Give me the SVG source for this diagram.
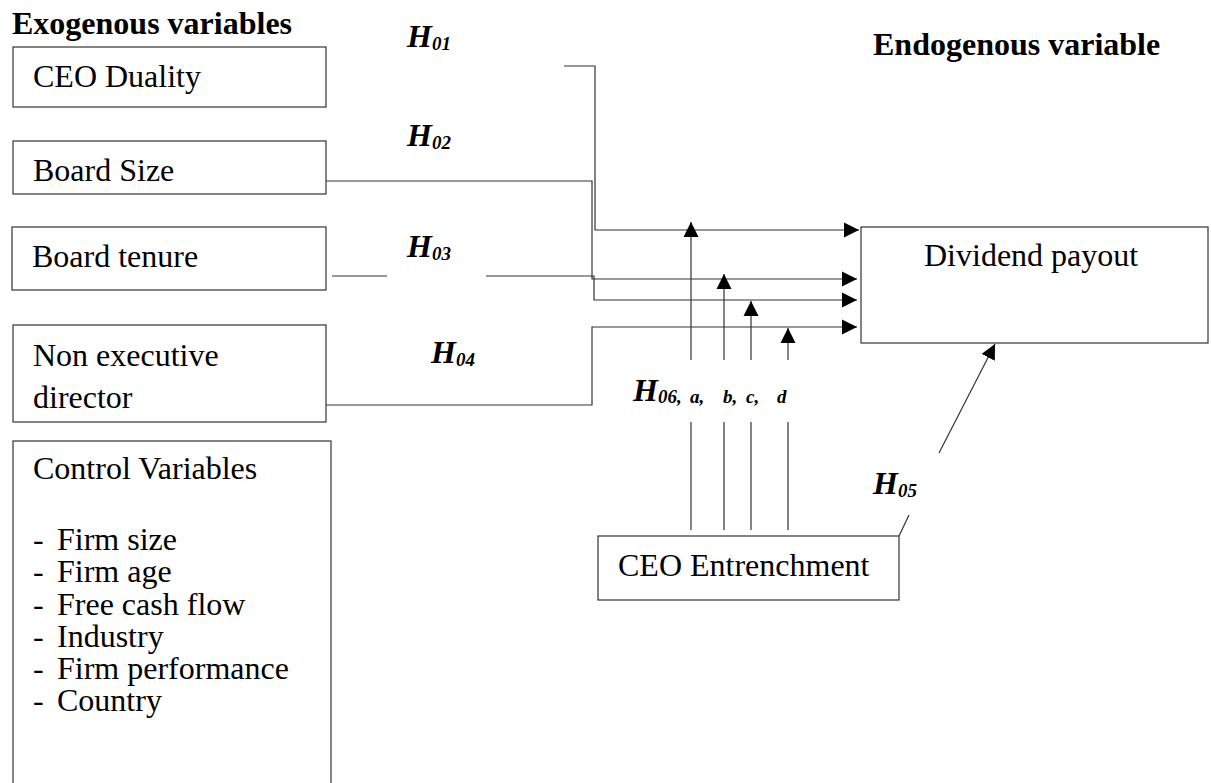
<svg xmlns="http://www.w3.org/2000/svg" width="1211" height="783" viewBox="0 0 1211 783">
<style>
.box{fill:#fff;stroke:#333;stroke-width:1.2}
.t{font-family:"Liberation Serif",serif;font-size:32px;fill:#000}
.hd{font-family:"Liberation Serif",serif;font-size:32px;font-weight:bold;fill:#000}
.h{font-family:"Liberation Serif",serif;font-size:32px;font-weight:bold;font-style:italic;fill:#000}
.sub{font-size:19px}
.sm{font-size:19px}
.c{fill:none;stroke:#333;stroke-width:1.2}
</style>
<defs>
<marker id="ah" markerUnits="userSpaceOnUse" markerWidth="16" markerHeight="16" refX="15" refY="8" orient="auto" viewBox="0 0 16 16">
<path d="M0,0.5 L15,8 L0,15.5 z" fill="#000"/>
</marker>
</defs>
<rect width="1211" height="783" fill="#fff"/>
<text class="hd" x="12" y="34">Exogenous variables</text>
<text class="hd" x="873" y="55">Endogenous variable</text>
<g id="ceo-duality"><rect class="box" x="13" y="47" width="313" height="60"/><text class="t" x="33" y="87">CEO Duality</text></g>
<g id="board-size"><rect class="box" x="13" y="141" width="313" height="53"/><text class="t" x="33" y="181">Board Size</text></g>
<g id="board-tenure"><rect class="box" x="12" y="227" width="314" height="63"/><text class="t" x="32" y="267">Board tenure</text></g>
<g id="non-exec"><rect class="box" x="13" y="325" width="313" height="97"/><text class="t" x="33" y="366">Non executive</text><text class="t" x="33" y="408">director</text></g>
<g id="control"><rect class="box" x="13" y="441" width="318" height="360"/>
<text class="t" x="33" y="479">Control Variables</text>
<text class="t" x="33" y="550">-</text><text class="t" x="57" y="550">Firm size</text>
<text class="t" x="33" y="582">-</text><text class="t" x="57" y="582">Firm age</text>
<text class="t" x="33" y="615">-</text><text class="t" x="57" y="615">Free cash flow</text>
<text class="t" x="33" y="647">-</text><text class="t" x="57" y="647">Industry</text>
<text class="t" x="33" y="679">-</text><text class="t" x="57" y="679">Firm performance</text>
<text class="t" x="33" y="711">-</text><text class="t" x="57" y="711">Country</text>
</g>
<g id="dividend"><rect class="box" x="861" y="227" width="347" height="116"/><text class="t" x="924" y="266">Dividend payout</text></g>
<g id="entrenchment"><rect class="box" x="598" y="536" width="301" height="64"/><text class="t" x="618" y="576">CEO Entrenchment</text></g>
<g id="connectors">
<path class="c" d="M564,66 H595 V230 H859" marker-end="url(#ah)"/>
<path class="c" d="M326,181 H592 V279 H857" marker-end="url(#ah)"/>
<path class="c" d="M332,276 H387"/>
<path class="c" d="M486,276 H594 V300 H857" marker-end="url(#ah)"/>
<path class="c" d="M326,405 H592 V327 H857" marker-end="url(#ah)"/>
<path class="c" d="M691,360 V222" marker-end="url(#ah)"/>
<path class="c" d="M724,360 V274" marker-end="url(#ah)"/>
<path class="c" d="M751,360 V301" marker-end="url(#ah)"/>
<path class="c" d="M788,360 V328" marker-end="url(#ah)"/>
<path class="c" d="M691,422 V530 M724,422 V530 M751,422 V530 M788,422 V530"/>
<path class="c" d="M899,536 L909,515"/>
<path class="c" d="M939,453 L995,344" marker-end="url(#ah)"/>
</g>
<g id="labels">
<text class="h" x="407" y="47">H<tspan class="sub" dy="3">01</tspan></text>
<text class="h" x="407" y="146">H<tspan class="sub" dy="3">02</tspan></text>
<text class="h" x="407" y="257">H<tspan class="sub" dy="3">03</tspan></text>
<text class="h" x="431" y="363">H<tspan class="sub" dy="3">04</tspan></text>
<text class="h" x="873" y="494">H<tspan class="sub" dy="3">05</tspan></text>
<text class="h" x="633" y="401">H<tspan class="sub" dy="2">06,</tspan></text>
<text class="h sm" x="690" y="403">a,</text>
<text class="h sm" x="723" y="403">b,</text>
<text class="h sm" x="746" y="403">c,</text>
<text class="h sm" x="777" y="403">d</text>
</g>
</svg>
